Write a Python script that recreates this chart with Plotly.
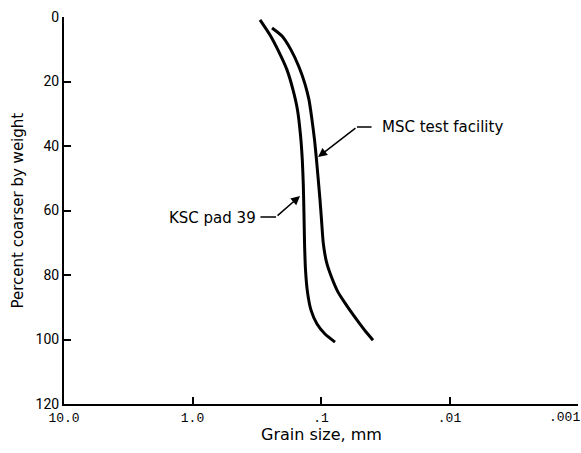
import plotly.graph_objects as go

# Grain size distribution (grain size in mm, percent coarser by weight)
ksc_size = [0.2983, 0.2493, 0.2122, 0.1839, 0.1651, 0.1524, 0.1444, 0.1398, 0.1373, 0.1356,
            0.1342, 0.1320, 0.1274, 0.1196, 0.1074, 0.0931, 0.0778]
ksc_pct = [0.9, 5.6, 10.9, 16.4, 22.6, 28.8, 36.6, 44.3, 52.1, 61.4,
           70.7, 78.4, 85.3, 90.9, 95.2, 98.3, 100.8]

msc_size = [0.2405, 0.2011, 0.1712, 0.1483, 0.1332, 0.1240, 0.1175, 0.1123, 0.1084, 0.1050,
            0.1018, 0.0991, 0.0960, 0.0906, 0.0829, 0.0737, 0.0650, 0.0574, 0.0497, 0.0439, 0.0394]
msc_pct = [3.4, 5.9, 10.2, 15.5, 20.8, 25.7, 31.9, 38.1, 44.3, 50.5,
           56.7, 62.9, 70.1, 76.0, 80.6, 85.3, 88.7, 91.8, 95.2, 98.0, 100.2]

x_tickvals = [10, 1, 0.1, 0.01, 0.001]
x_ticktext = ["10.0", "1.0", ".1", ".01", ""]
y_tickvals = [0, 20, 40, 60, 80, 100, 120]

SANS = "DejaVu Sans, sans-serif"
MONO = "Liberation Mono, DejaVu Sans Mono, monospace"
NARROW = "Roboto, sans-serif"

fig = go.Figure()
fig.add_trace(go.Scatter(x=ksc_size, y=ksc_pct, mode="lines", name="KSC pad 39",
                         line=dict(color="black", width=3, shape="spline", smoothing=0.6)))
fig.add_trace(go.Scatter(x=msc_size, y=msc_pct, mode="lines", name="MSC test facility",
                         line=dict(color="black", width=3, shape="spline", smoothing=0.6)))

fig.update_layout(
    width=581, height=453,
    margin=dict(l=64, r=3, t=17, b=49),
    plot_bgcolor="white", paper_bgcolor="white",
    showlegend=False,
    font=dict(family=SANS, color="black", size=15),
    xaxis=dict(type="log", range=[1, -3], tickvals=x_tickvals, ticktext=x_ticktext,
               ticks="inside", ticklen=7, tickwidth=1.5, tickcolor="black",
               showline=True, linecolor="black", linewidth=2, showgrid=False, zeroline=False,
               automargin=False, tickfont=dict(family=MONO, size=13)),
    yaxis=dict(range=[120, 0], tickvals=y_tickvals,
               ticks="inside", ticklen=7, tickwidth=1.5, tickcolor="black",
               showline=True, linecolor="black", linewidth=2, showgrid=False, zeroline=False,
               automargin=False, tickfont=dict(family=NARROW, size=14)),
)

# axis titles
fig.add_annotation(x=0.5, y=-0.078, xref="paper", yref="paper", text="Grain size, mm",
                   showarrow=False, xanchor="center", yanchor="middle", font=dict(size=16))
fig.add_annotation(x=-0.0914, y=0.5, xref="paper", yref="paper", text="Percent coarser by weight",
                   showarrow=False, textangle=-90, xanchor="center", yanchor="middle",
                   font=dict(size=15))

# last x tick label kept inside the figure edge
fig.add_annotation(x=-3, y=0, xref="x", yref="paper", text=".001", showarrow=False,
                   xanchor="right", yanchor="top", xshift=4, yshift=-4,
                   font=dict(family=MONO, size=13))

# labels with bent leader arrows
fig.add_annotation(x=-1.459, y=34.2, xref="x", yref="y", text="MSC test facility",
                   showarrow=False, xanchor="left", yanchor="middle", font=dict(size=15))
fig.add_annotation(x=-1.280, y=34.1, ax=-1.405, ay=34.1, xref="x", yref="y",
                   axref="x", ayref="y", text="", showarrow=True,
                   arrowhead=0, arrowwidth=1.5, arrowcolor="black")
fig.add_annotation(x=-0.977, y=43.4, ax=-1.280, ay=34.1, xref="x", yref="y",
                   axref="x", ayref="y", text="", showarrow=True,
                   arrowhead=2, arrowsize=1.2, arrowwidth=1.5, arrowcolor="black")

fig.add_annotation(x=-0.510, y=62.2, xref="x", yref="y", text="KSC pad 39",
                   showarrow=False, xanchor="right", yanchor="middle", font=dict(size=15))
fig.add_annotation(x=-0.650, y=62.0, ax=-0.517, ay=62.0, xref="x", yref="y",
                   axref="x", ayref="y", text="", showarrow=True,
                   arrowhead=0, arrowwidth=1.5, arrowcolor="black")
fig.add_annotation(x=-0.837, y=55.5, ax=-0.650, ay=62.0, xref="x", yref="y",
                   axref="x", ayref="y", text="", showarrow=True,
                   arrowhead=2, arrowsize=1.2, arrowwidth=1.5, arrowcolor="black")

fig.write_html("out.html", config={"displayModeBar": False},
               post_script="document.body.style.margin='0';")
